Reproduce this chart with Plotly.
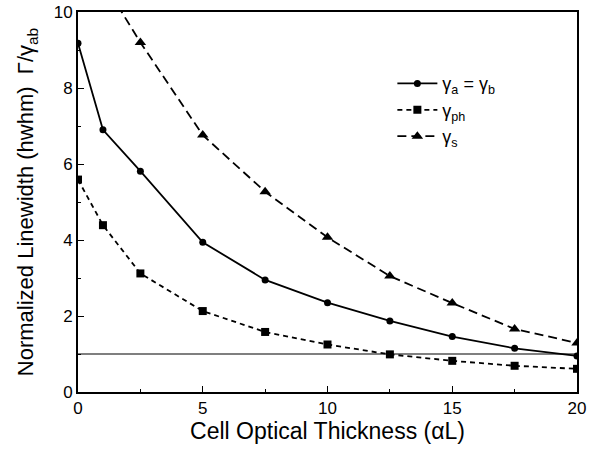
import plotly.graph_objects as go

x_ab = [0, 1, 2.5, 5, 7.5, 10, 12.5, 15, 17.5, 20]
y_ab = [9.18, 6.9, 5.81, 3.94, 2.95, 2.35, 1.87, 1.46, 1.15, 0.95]

x_ph = [0, 1, 2.5, 5, 7.5, 10, 12.5, 15, 17.5, 20]
y_ph = [5.59, 4.39, 3.12, 2.13, 1.58, 1.25, 0.99, 0.82, 0.69, 0.61]

x_s = [1, 2.5, 5, 7.5, 10, 12.5, 15, 17.5, 20]
y_s = [10.8, 9.2, 6.76, 5.27, 4.07, 3.05, 2.34, 1.66, 1.29]

ref_x = [0, 20]
ref_y = [1, 1]

x_ticks = [0, 5, 10, 15, 20]
y_ticks = [0, 2, 4, 6, 8, 10]

FONT = "Liberation Sans, Arial, sans-serif"

fig = go.Figure()
fig.add_trace(go.Scatter(x=ref_x, y=ref_y, mode="lines",
                         line=dict(color="black", width=1.2), showlegend=False,
                         hoverinfo="skip"))
fig.add_trace(go.Scatter(x=x_ab, y=y_ab, mode="lines+markers", name="γ<sub>a</sub> = γ<sub>b</sub>",
                         line=dict(color="black", width=1.8),
                         marker=dict(symbol="circle", size=7, color="black")))
fig.add_trace(go.Scatter(x=x_ph, y=y_ph, mode="lines+markers", name="γ<sub>ph</sub>",
                         line=dict(color="black", width=1.8, dash="5px,4px"),
                         marker=dict(symbol="square", size=8, color="black")))
fig.add_trace(go.Scatter(x=x_s, y=y_s, mode="lines+markers", name="γ<sub>s</sub>",
                         line=dict(color="black", width=1.8, dash="9px,5px"),
                         marker=dict(symbol="triangle-up", size=10, color="black"),
                         cliponaxis=True))

axis_common = dict(showline=True, linecolor="black", linewidth=2, mirror=True,
                   ticks="inside", ticklen=6, tickwidth=1, tickcolor="black",
                   showgrid=False, zeroline=False, automargin=False,
                   tickfont=dict(family=FONT, size=17, color="black"))

fig.update_xaxes(range=[0, 20], tickvals=x_ticks,
                 minor=dict(dtick=2.5, ticks="inside", ticklen=3, tickcolor="black"),
                 title=dict(text="Cell Optical Thickness (αL)",
                            font=dict(family=FONT, size=23, color="black"), standoff=2),
                 **axis_common)
fig.update_yaxes(range=[0, 10], tickvals=y_ticks,
                 minor=dict(dtick=1, ticks="inside", ticklen=3, tickcolor="black"),
                 title=dict(text="Normalized Linewidth (hwhm)  Γ/γ<sub>ab</sub>",
                            font=dict(family=FONT, size=22, color="black"), standoff=14),
                 **axis_common)

fig.update_layout(width=589, height=451,
                  margin=dict(l=78, r=12, t=12, b=59),
                  paper_bgcolor="white", plot_bgcolor="white",
                  legend=dict(x=0.63, y=0.86, xanchor="left", yanchor="top",
                              bgcolor="rgba(0,0,0,0)",
                              font=dict(family=FONT, size=18, color="black"),
                              tracegroupgap=0, itemwidth=40))

fig.write_html("out.html")
